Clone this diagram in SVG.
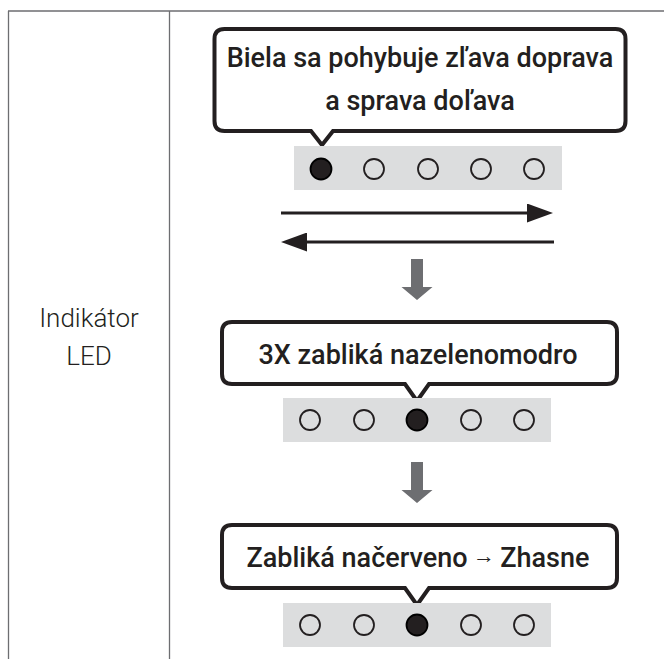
<svg xmlns="http://www.w3.org/2000/svg" xmlns:xlink="http://www.w3.org/1999/xlink" width="664" height="659" viewBox="0 0 664 659">
<style>
.grid{stroke:#6d6e71;stroke-width:1.3;fill:none}
.bubble{fill:#fff;stroke:#231f20;stroke-width:4;stroke-linejoin:miter}
.btxt{font-family:Roboto,"Liberation Sans",sans-serif;font-weight:500;font-size:27px;fill:#231f20;text-anchor:middle}
.ltxt{font-family:Roboto,"Liberation Sans",sans-serif;font-weight:300;font-size:26px;fill:#231f20;text-anchor:middle}
.bar{fill:#dcddde}
.off{fill:none;stroke:#231f20;stroke-width:1.8}
.on{fill:#231f20;stroke:#000;stroke-width:1.8}
.line{stroke:#231f20;stroke-width:3;fill:none}
.down{fill:#6d6e71}
</style>
<defs>
<marker id="ah" viewBox="0 0 26 19" refX="0" refY="9.5" markerUnits="userSpaceOnUse" markerWidth="26" markerHeight="19" orient="auto">
<path d="M0,0 L26,9.5 L0,19 Z" fill="#231f20"/>
</marker>
<path id="dn" d="M-6,0 H6 V28 H15.5 L0,41 L-15.5,28 H-6 Z"/>
</defs>

<g id="table">
<path class="grid" d="M8,11 H664 M8.5,11 V659 M169.5,11 V659"/>
<text class="ltxt" x="89" y="327">Indikátor</text>
<text class="ltxt" x="89" y="365">LED</text>
</g>

<g id="step1">
<path class="bubble" d="M224.5,29 H615.5 Q625.5,29 625.5,39 V121 Q625.5,131 615.5,131 H333 L322,145 L311,131 H224.5 Q214.5,131 214.5,121 V39 Q214.5,29 224.5,29 Z"/>
<text class="btxt" x="420" y="67">Biela sa pohybuje zľava doprava</text>
<text class="btxt" x="420" y="110">a sprava doľava</text>
<rect class="bar" x="294" y="146" width="268" height="44"/>
<circle class="on" cx="321" cy="169" r="10.5"/>
<circle class="off" cx="374" cy="169" r="10"/>
<circle class="off" cx="428" cy="169" r="10"/>
<circle class="off" cx="481" cy="169" r="10"/>
<circle class="off" cx="534" cy="169" r="10"/>
</g>

<g id="step2">
<path class="bubble" d="M232,322 H607 Q617,322 617,332 V374 Q617,384 607,384 H429 L417,401 L405,384 H232 Q222,384 222,374 V332 Q222,322 232,322 Z"/>
<text class="btxt" x="418" y="364">3X zabliká nazelenomodro</text>
<rect class="bar" x="283" y="398" width="268" height="44"/>
<circle class="off" cx="310" cy="420" r="10"/>
<circle class="off" cx="364" cy="420" r="10"/>
<circle class="on" cx="417" cy="420" r="10.5"/>
<circle class="off" cx="471" cy="420" r="10"/>
<circle class="off" cx="524" cy="420" r="10"/>
</g>

<g id="step3">
<path class="bubble" d="M232,525 H607 Q617,525 617,535 V578 Q617,588 607,588 H429 L417,605 L405,588 H232 Q222,588 222,578 V535 Q222,525 232,525 Z"/>
<text class="btxt" x="418" y="567">Zabliká načerveno<tspan font-size="22" font-weight="300" dy="-4"> → </tspan><tspan dy="4">Zhasne</tspan></text>
<rect class="bar" x="283" y="603" width="268" height="44"/>
<circle class="off" cx="310" cy="625" r="10"/>
<circle class="off" cx="364" cy="625" r="10"/>
<circle class="on" cx="417" cy="625" r="10.5"/>
<circle class="off" cx="471" cy="625" r="10"/>
<circle class="off" cx="524" cy="625" r="10"/>
</g>

<g id="connectors">
<line class="line" x1="281" y1="213" x2="527" y2="213" marker-end="url(#ah)"/>
<line class="line" x1="554" y1="242" x2="307" y2="242" marker-end="url(#ah)"/>
<use class="down" xlink:href="#dn" x="417" y="259"/>
<use class="down" xlink:href="#dn" x="417" y="462"/>
</g>
</svg>
